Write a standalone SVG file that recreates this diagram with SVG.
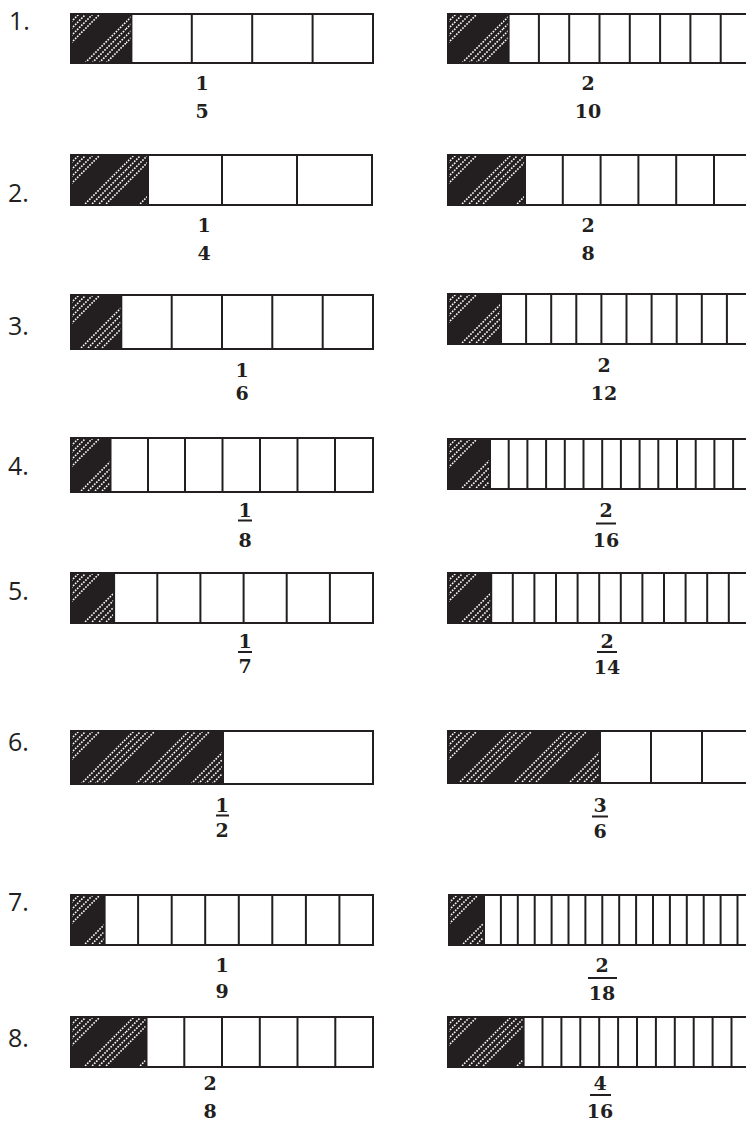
<svg xmlns="http://www.w3.org/2000/svg" width="746" height="1147" viewBox="0 0 746 1147">
<style>
.sh{fill:#231f20}
.ht{fill:url(#hatch)}
.ol{fill:none;stroke:#231f20;stroke-width:2}
.dv{fill:none;stroke:#231f20;stroke-width:2}
.fl{fill:none;stroke:#231f20;stroke-width:2}
.fr{font-family:"DejaVu Serif","Liberation Serif",serif;font-weight:bold;font-size:19px;text-anchor:middle;fill:#231f20}
.lb{font-family:"Open Sans","Liberation Sans",sans-serif;font-size:25px;fill:#231f20}
</style>
<defs>
<pattern id="hatch" patternUnits="userSpaceOnUse" x="0" y="0" width="55" height="55">
<path d="M0 8L8 0M0 15L15 0M0 22L22 0M0 29L29 0M8 55L55 8M15 55L55 15M22 55L55 22M29 55L55 29" fill="none" stroke="#fff" stroke-width="1.6" stroke-dasharray="1.6 1.3"/>
</pattern>
</defs>
<rect width="746" height="1147" fill="#fff"/>
<g id="labels">
<text class="lb" x="9" y="30">1.</text>
<text class="lb" x="8" y="202">2.</text>
<text class="lb" x="8" y="335">3.</text>
<text class="lb" x="8" y="475">4.</text>
<text class="lb" x="8" y="600">5.</text>
<text class="lb" x="8" y="751">6.</text>
<text class="lb" x="8" y="911">7.</text>
<text class="lb" x="8" y="1047">8.</text>
</g>
<g id="row1L" transform="translate(71,14)">
<rect class="sh" width="60.4" height="49"/><rect class="ht" width="60.4" height="49"/>
<path class="dv" d="M60.4 0V49M120.8 0V49M181.2 0V49M241.6 0V49"/>
<rect class="ol" width="302" height="49"/>
</g>
<g id="row1R" transform="translate(448,14)">
<rect class="sh" width="60.6" height="49"/><rect class="ht" width="60.6" height="49"/>
<path class="dv" d="M60.6 0V49M90.9 0V49M121.2 0V49M151.5 0V49M181.8 0V49M212.1 0V49M242.4 0V49M272.7 0V49"/>
<rect class="ol" width="303" height="49"/>
</g>
<g id="row2L" transform="translate(71,155)">
<rect class="sh" width="77" height="50"/><rect class="ht" width="77" height="50"/>
<path class="dv" d="M77 0V50M151 0V50M226 0V50"/>
<rect class="ol" width="301" height="50"/>
</g>
<g id="row2R" transform="translate(448,155)">
<rect class="sh" width="77" height="50"/><rect class="ht" width="77" height="50"/>
<path class="dv" d="M77 0V50M114.8 0V50M152.6 0V50M190.4 0V50M228.2 0V50M266 0V50"/>
<rect class="ol" width="304" height="50"/>
</g>
<g id="row3L" transform="translate(71,295)">
<rect class="sh" width="50.3" height="54"/><rect class="ht" width="50.3" height="54"/>
<path class="dv" d="M50.3 0V54M100.7 0V54M151 0V54M201.3 0V54M251.7 0V54"/>
<rect class="ol" width="302" height="54"/>
</g>
<g id="row3R" transform="translate(448,294)">
<rect class="sh" width="53" height="50"/><rect class="ht" width="53" height="50"/>
<path class="dv" d="M53 0V50M78.1 0V50M103.2 0V50M128.3 0V50M153.4 0V50M178.5 0V50M203.6 0V50M228.7 0V50M253.8 0V50M278.9 0V50"/>
<rect class="ol" width="304" height="50"/>
</g>
<g id="row4L" transform="translate(71,438)">
<rect class="sh" width="39.5" height="54"/><rect class="ht" width="39.5" height="54"/>
<path class="dv" d="M39.5 0V54M77 0V54M114 0V54M151.5 0V54M189 0V54M226.5 0V54M264 0V54"/>
<rect class="ol" width="302" height="54"/>
</g>
<g id="row4R" transform="translate(448,439)">
<rect class="sh" width="42" height="50"/><rect class="ht" width="42" height="50"/>
<path class="dv" d="M42 0V50M60.7 0V50M79.4 0V50M98.1 0V50M116.8 0V50M135.5 0V50M154.2 0V50M172.9 0V50M191.6 0V50M210.3 0V50M229 0V50M247.7 0V50M266.4 0V50M285.1 0V50"/>
<rect class="ol" width="304" height="50"/>
</g>
<g id="row5L" transform="translate(71,573)">
<rect class="sh" width="43.1" height="50"/><rect class="ht" width="43.1" height="50"/>
<path class="dv" d="M43.1 0V50M86.3 0V50M129.4 0V50M172.6 0V50M215.7 0V50M258.9 0V50"/>
<rect class="ol" width="302" height="50"/>
</g>
<g id="row5R" transform="translate(448,573)">
<rect class="sh" width="43.2" height="50"/><rect class="ht" width="43.2" height="50"/>
<path class="dv" d="M43.2 0V50M64.8 0V50M86.4 0V50M108 0V50M129.6 0V50M151.2 0V50M172.8 0V50M194.4 0V50M216 0V50M237.6 0V50M259.2 0V50M280.8 0V50"/>
<rect class="ol" width="302.4" height="50"/>
</g>
<g id="row6L" transform="translate(71,731)">
<rect class="sh" width="152" height="53"/><rect class="ht" width="152" height="53"/>
<path class="dv" d="M152 0V53"/>
<rect class="ol" width="302" height="53"/>
</g>
<g id="row6R" transform="translate(448,731)">
<rect class="sh" width="152" height="52"/><rect class="ht" width="152" height="52"/>
<path class="dv" d="M152 0V52M203 0V52M254 0V52"/>
<rect class="ol" width="305" height="52"/>
</g>
<g id="row7L" transform="translate(71,895)">
<rect class="sh" width="33.6" height="50"/><rect class="ht" width="33.6" height="50"/>
<path class="dv" d="M33.6 0V50M67.1 0V50M100.7 0V50M134.2 0V50M167.8 0V50M201.3 0V50M234.9 0V50M268.4 0V50"/>
<rect class="ol" width="302" height="50"/>
</g>
<g id="row7R" transform="translate(449,895)">
<rect class="sh" width="35" height="50"/><rect class="ht" width="35" height="50"/>
<path class="dv" d="M35 0V50M51.9 0V50M68.8 0V50M85.7 0V50M102.6 0V50M119.5 0V50M136.4 0V50M153.3 0V50M170.2 0V50M187.1 0V50M204 0V50M220.9 0V50M237.8 0V50M254.7 0V50M271.6 0V50M288.5 0V50"/>
<rect class="ol" width="305.4" height="50"/>
</g>
<g id="row8L" transform="translate(71,1017)">
<rect class="sh" width="75.5" height="50"/><rect class="ht" width="75.5" height="50"/>
<path class="dv" d="M75.5 0V50M113.3 0V50M151 0V50M188.8 0V50M226.5 0V50M264.3 0V50"/>
<rect class="ol" width="302" height="50"/>
</g>
<g id="row8R" transform="translate(448,1017)">
<rect class="sh" width="75.6" height="50"/><rect class="ht" width="75.6" height="50"/>
<path class="dv" d="M75.6 0V50M94.5 0V50M113.4 0V50M132.3 0V50M151.2 0V50M170.1 0V50M189 0V50M207.9 0V50M226.8 0V50M245.7 0V50M264.6 0V50M283.5 0V50"/>
<rect class="ol" width="302.4" height="50"/>
</g>
<g id="fractions">
<text class="fr" x="202" y="90">1</text><text class="fr" x="202" y="118">5</text>
<text class="fr" x="588" y="90">2</text><text class="fr" x="588" y="118">10</text>
<text class="fr" x="204" y="232">1</text><text class="fr" x="204" y="260">4</text>
<text class="fr" x="588" y="232">2</text><text class="fr" x="588" y="260">8</text>
<text class="fr" x="242" y="377">1</text><text class="fr" x="242" y="400">6</text>
<text class="fr" x="604" y="372">2</text><text class="fr" x="604" y="400">12</text>
<text class="fr" x="245" y="517">1</text><text class="fr" x="245" y="547">8</text>
<text class="fr" x="606" y="517">2</text><text class="fr" x="606" y="547">16</text>
<text class="fr" x="245" y="648">1</text><text class="fr" x="245" y="673">7</text>
<text class="fr" x="607" y="648">2</text><text class="fr" x="607" y="674">14</text>
<text class="fr" x="222" y="812">1</text><text class="fr" x="222" y="837">2</text>
<text class="fr" x="600" y="812">3</text><text class="fr" x="600" y="838">6</text>
<text class="fr" x="222" y="972">1</text><text class="fr" x="222" y="998">9</text>
<text class="fr" x="602" y="972">2</text><text class="fr" x="602" y="1000">18</text>
<text class="fr" x="210" y="1090">2</text><text class="fr" x="210" y="1118">8</text>
<text class="fr" x="600" y="1090">4</text><text class="fr" x="600" y="1118">16</text>
<path class="fl" d="M238 520.5H252M596 523.5H616M238 652H252M597 652H617M216 815.5H229M592 816.5H608M588 978H617M590 1095H611"/>
</g>
</svg>
